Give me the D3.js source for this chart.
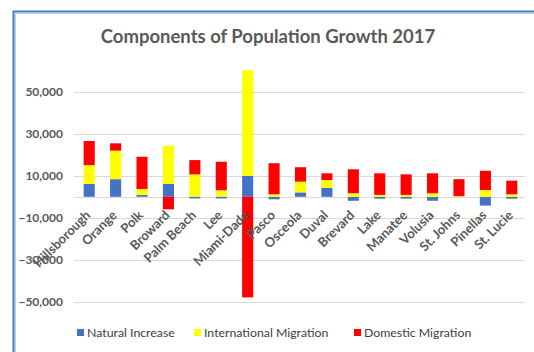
<!DOCTYPE html>
<html>
<head>
<meta charset="utf-8">
<script src="https://cdn.jsdelivr.net/npm/d3@7"></script>
<style>
  body { margin: 0; background: #fff; }
  svg { display: block; font-family: Lato, "Open Sans", sans-serif; }
</style>
</head>
<body>
<div id="chart"></div>
<script>
// Counties (x categories).
var counties = ["Hillsborough", "Orange", "Polk", "Broward", "Palm Beach", "Lee",
  "Miami-Dade", "Pasco", "Osceola", "Duval", "Brevard", "Lake", "Manatee",
  "Volusia", "St. Johns", "Pinellas", "St. Lucie"];

// Series values.
var naturalIncrease = [6100, 8400, 900, 6100, -800, -800, 10000, -1200, 2100, 4300,
  -1900, -900, -900, -1900, 0, -4200, -900];
var internationalMigration = [9000, 13600, 2800, 18300, 10700, 3100, 50400, 1200, 5100,
  3700, 1700, 900, 900, 1700, 300, 3200, 1200];
var domesticMigration = [11500, 3500, 15400, -6000, 6800, 13600, -48000, 14800, 6900,
  3200, 11400, 10300, 9800, 9500, 8100, 9200, 6500];

var seriesNames = ["Natural Increase", "International Migration", "Domestic Migration"];
var seriesColors = ["#4472c4", "#ffff00", "#ff0000"];
var yTicks = [-50000, -30000, -10000, 10000, 30000, 50000];

var width = 534, height = 352;
var margin = {top: 71, right: 9, bottom: 50, left: 76};

var svg = d3.select("#chart").append("svg")
  .attr("width", width)
  .attr("height", height);

// Frame (only the left and top edges show in the picture).
svg.append("path")
  .attr("d", "M13.5,360V11.5H540")
  .attr("fill", "none")
  .attr("stroke", "#4a78c0")
  .attr("stroke-width", 2);
svg.append("path")
  .attr("d", "M15.5,360V13.5H540")
  .attr("fill", "none")
  .attr("stroke", "#b9cdea")
  .attr("stroke-width", 1);

svg.append("text")
  .attr("x", 268)
  .attr("y", 43)
  .attr("text-anchor", "middle")
  .attr("font-size", 18.5)
  .attr("font-weight", "bold")
  .attr("fill", "#595959")
  .text("Components of Population Growth 2017");

// Build rows for the stack.
var rows = counties.map(function (c, i) {
  return {
    county: c,
    "Natural Increase": naturalIncrease[i],
    "International Migration": internationalMigration[i],
    "Domestic Migration": domesticMigration[i]
  };
});

var stacked = d3.stack()
  .keys(seriesNames)
  .offset(d3.stackOffsetDiverging)(rows);

var x = d3.scaleBand()
  .domain(counties)
  .range([margin.left, width - margin.right])
  .paddingInner(0.58)
  .paddingOuter(0.29);

var y = d3.scaleLinear()
  .domain([-50000, 60000])
  .range([301.6, 71]);

// Gridlines + y labels.
var grid = svg.append("g");
grid.selectAll("line")
  .data(yTicks.concat([0]))
  .enter().append("line")
  .attr("x1", 74)
  .attr("x2", 525)
  .attr("y1", function (d) { return Math.round(y(d)) + 0.5; })
  .attr("y2", function (d) { return Math.round(y(d)) + 0.5; })
  .attr("stroke", "#d9d9d9")
  .attr("stroke-width", 1);

svg.append("g")
  .selectAll("text")
  .data(yTicks)
  .enter().append("text")
  .attr("x", 63)
  .attr("y", function (d) { return y(d) + 4; })
  .attr("text-anchor", "end")
  .attr("font-size", 12)
  .attr("font-weight", "bold")
  .attr("fill", "#595959")
  .text(function (d) { return d3.format(",")(d); });

// Bars.
svg.append("g")
  .selectAll("g")
  .data(stacked)
  .enter().append("g")
  .attr("fill", function (d, i) { return seriesColors[i]; })
  .selectAll("rect")
  .data(function (d) { return d; })
  .enter().append("rect")
  .attr("x", function (d) { return x(d.data.county); })
  .attr("width", x.bandwidth())
  .attr("y", function (d) { return y(Math.max(d[0], d[1])); })
  .attr("height", function (d) { return Math.abs(y(d[0]) - y(d[1])); });

// Category labels, rotated.
svg.append("g")
  .selectAll("text")
  .data(counties)
  .enter().append("text")
  .attr("transform", function (d) {
    return "translate(" + (x(d) + x.bandwidth() / 2 + 2) + ",216) rotate(-45)";
  })
  .attr("text-anchor", "end")
  .attr("font-size", 13)
  .attr("font-weight", "bold")
  .attr("fill", "#595959")
  .text(function (d) { return d; });

// Legend.
var legendX = [77, 194, 354];
var legend = svg.append("g")
  .selectAll("g")
  .data(seriesNames)
  .enter().append("g")
  .attr("transform", function (d, i) { return "translate(" + legendX[i] + ",333)"; });
legend.append("rect")
  .attr("x", 0)
  .attr("y", -4)
  .attr("width", 7)
  .attr("height", 7)
  .attr("fill", function (d, i) { return seriesColors[i]; });
legend.append("text")
  .attr("x", 10)
  .attr("y", 4)
  .attr("font-size", 12.3)
  .attr("fill", "#404040")
  .text(function (d) { return d; });
</script>
</body>
</html>
